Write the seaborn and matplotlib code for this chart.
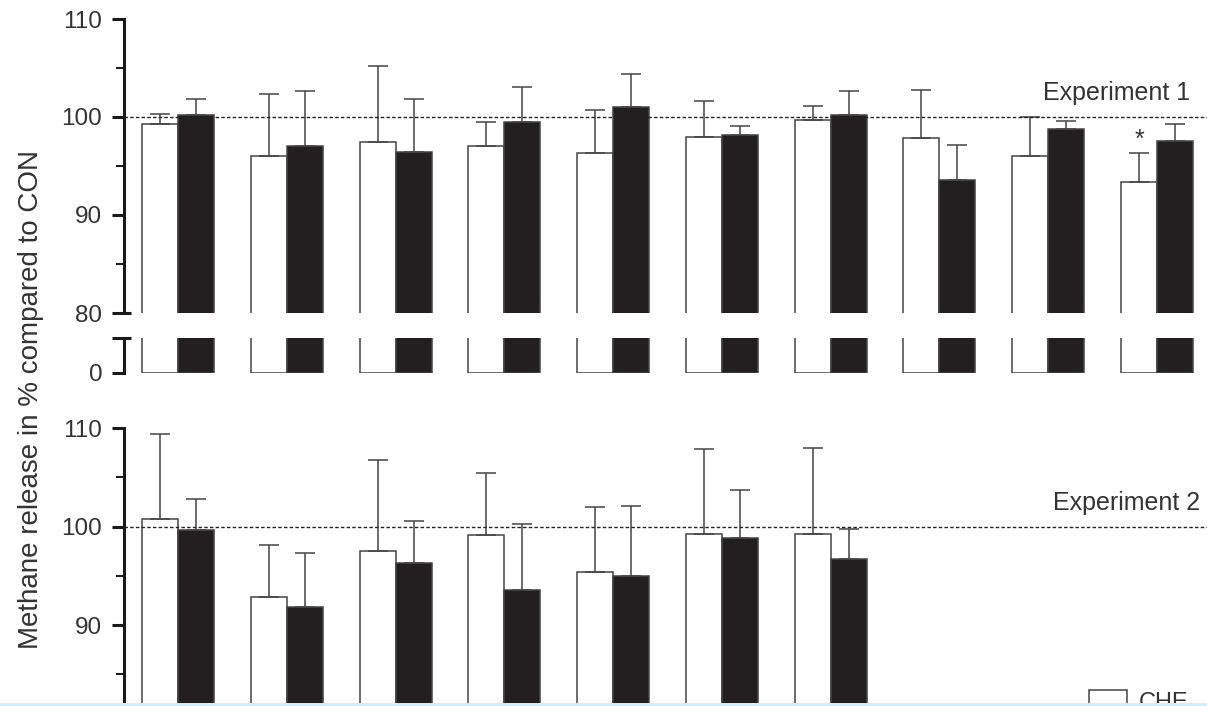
import matplotlib
matplotlib.use("Agg")
import matplotlib.pyplot as plt
import matplotlib.transforms as mtransforms
from matplotlib.patches import Patch, Rectangle
import pandas as pd
import seaborn as sns

# ---- data: methane release relative to CON (%), mean and upper SE ----
treatments = ["CHE", "ALT"]
periods_exp1 = ["1", "2", "3", "4", "5", "6", "7", "8", "9", "10"]
periods_exp2 = ["1", "2", "3", "4", "5", "6", "7"]

exp1_che = [99.3, 96.0, 97.4, 97.0, 96.3, 98.0, 99.7, 97.9, 96.0, 93.4]
exp1_che_se = [1.0, 6.3, 7.8, 2.5, 4.4, 3.6, 1.4, 4.9, 4.0, 2.9]
exp1_alt = [100.2, 97.0, 96.4, 99.5, 101.0, 98.2, 100.2, 93.6, 98.8, 97.5]
exp1_alt_se = [1.6, 5.7, 5.4, 3.6, 3.4, 0.9, 2.5, 3.5, 0.8, 1.8]
exp1_che_sig = ["", "", "", "", "", "", "", "", "", "*"]

exp2_che = [100.8, 92.8, 97.5, 99.2, 95.4, 99.3, 99.3]
exp2_che_se = [8.6, 5.3, 9.3, 6.3, 6.6, 8.6, 8.7]
exp2_alt = [99.7, 91.8, 96.3, 93.6, 95.0, 98.8, 96.7]
exp2_alt_se = [3.1, 5.5, 4.3, 6.7, 7.1, 4.9, 3.1]

# ---- styling ----
bar_colors = {"CHE": "#ffffff", "ALT": "#231f20"}
edge_color = "#444444"
axis_color = "#1a1a1a"
text_color = "#333333"

sns.set_theme(style="white")
plt.rcParams["font.family"] = ["Liberation Sans", "DejaVu Sans"]


def long_table(periods, che, alt):
    n = len(periods)
    return pd.DataFrame({
        "period": periods * 2,
        "treatment": ["CHE"] * n + ["ALT"] * n,
        "value": che + alt,
    })


df1 = long_table(periods_exp1, exp1_che, exp1_alt)
df2 = long_table(periods_exp2, exp2_che, exp2_alt)

fig = plt.figure(figsize=(12.07, 7.06), dpi=100)
W_PX, H_PX = 1207, 706
left = 124 / W_PX
width = 1 - left
XLIM = (-0.4964, 9.4595)

ax1 = fig.add_axes([left, 1 - 313 / H_PX, width, 294 / H_PX])   # experiment 1, 80-110
ax1b = fig.add_axes([left, 1 - 373 / H_PX, width, 35 / H_PX])   # experiment 1, near 0
ax2 = fig.add_axes([left, 1 - 723.4 / H_PX, width, 295.1 / H_PX])  # experiment 2


def draw_bars(ax, df, order):
    sns.barplot(data=df, x="period", y="value", hue="treatment",
                order=order, hue_order=treatments, palette=bar_colors,
                saturation=1, width=0.662, errorbar=None, legend=False,
                edgecolor=edge_color, linewidth=1.1, ax=ax, zorder=2)


def draw_errors(ax, errors):
    tops = []
    for cont, errs in zip(ax.containers, errors):
        for bar, e in zip(cont, errs):
            x = bar.get_x() + bar.get_width() / 2
            h = bar.get_height()
            ax.errorbar(x, h, yerr=[[0], [e]], fmt="none", ecolor="#444444",
                        elinewidth=1.1, capsize=7, capthick=1.1, zorder=3)
            tops.append((x, h + e))
    return tops


def style_axis(ax):
    ax.set_xlim(*XLIM)
    for side in ("top", "right", "bottom"):
        ax.spines[side].set_visible(False)
    ax.spines["left"].set_linewidth(2.2)
    ax.spines["left"].set_color(axis_color)
    ax.set_xticks([])
    ax.set_xlabel("")
    ax.set_ylabel("")
    ax.tick_params(axis="y", which="major", direction="out", length=8.6,
                   width=2.2, color=axis_color, labelsize=17.5,
                   labelcolor=text_color, pad=7, left=True)
    ax.tick_params(axis="y", which="minor", direction="out", length=5.8,
                   width=1.5, color=axis_color, left=True)
    ax.patch.set_alpha(0)


def inward_stub(ax, yval):
    tr = mtransforms.blended_transform_factory(ax.transAxes, ax.transData)
    ax.plot([0, 7 / (W_PX * width)], [yval, yval], transform=tr,
            color=axis_color, lw=2.2, solid_capstyle="butt", clip_on=False,
            zorder=5)


# experiment 1, upper segment
draw_bars(ax1, df1, periods_exp1)
tops1 = draw_errors(ax1, [exp1_che_se, exp1_alt_se])
style_axis(ax1)
ax1.set_ylim(80, 110)
ax1.set_yticks([80, 90, 100, 110])
ax1.set_yticks([85, 95, 105], minor=True)
ax1.axhline(100, color="#222222", lw=1.0, ls=(0, (2.5, 1.6)), zorder=4)
inward_stub(ax1, 80)
for (x, top), mark in zip(tops1[:len(periods_exp1)], exp1_che_sig):
    if mark:
        ax1.annotate(mark, xy=(x, top), xytext=(0, 1), textcoords="offset points",
                     ha="center", va="bottom", fontsize=18, color=text_color)
ax1.text(0.9843, 101.7, "Experiment 1", transform=mtransforms.blended_transform_factory(
    ax1.transAxes, ax1.transData), ha="right", va="baseline", fontsize=18,
    color=text_color)

# experiment 1, lower segment (axis break)
draw_bars(ax1b, df1, periods_exp1)
style_axis(ax1b)
ax1b.set_ylim(0, 10)
ax1b.set_yticks([0])
ax1b.set_yticks([10], minor=True)
ax1b.tick_params(axis="y", which="minor", length=8.6, width=2.2)
inward_stub(ax1b, 10)

# experiment 2 (the lower part of this panel runs past the bottom edge)
draw_bars(ax2, df2, periods_exp2)
draw_errors(ax2, [exp2_che_se, exp2_alt_se])
style_axis(ax2)
ax2.set_xlim(*XLIM)
ax2.set_ylim(80, 110)
ax2.set_yticks([90, 100, 110])
ax2.set_yticks([85, 95, 105], minor=True)
ax2.axhline(100, color="#222222", lw=1.0, ls=(0, (2.5, 1.6)), zorder=4)
ax2.text(0.9935, 101.7, "Experiment 2", transform=mtransforms.blended_transform_factory(
    ax2.transAxes, ax2.transData), ha="right", va="baseline", fontsize=18,
    color=text_color)

# shared y label
fig.text(31 / W_PX, 1 - 399.5 / H_PX, "Methane release in % compared to CON",
         rotation=90, ha="center", va="center", fontsize=20, color=text_color)

# legend
fig.legend(handles=[Patch(facecolor="white", edgecolor=edge_color, linewidth=1.1,
                          label="CHE")],
           loc="upper left", bbox_to_anchor=(1089 / W_PX, 1 - 690 / H_PX),
           frameon=False, fontsize=17, handlelength=1.6, handleheight=1.0,
           handletextpad=0.5, borderpad=0, borderaxespad=0,
           labelcolor=text_color)

# thin light-blue rule along the bottom edge
fig.add_artist(Rectangle((0, 0), 1, 3 / H_PX, transform=fig.transFigure,
                         facecolor="#cdeefc", edgecolor="none", zorder=10))

fig.savefig("out.png", dpi=100)
